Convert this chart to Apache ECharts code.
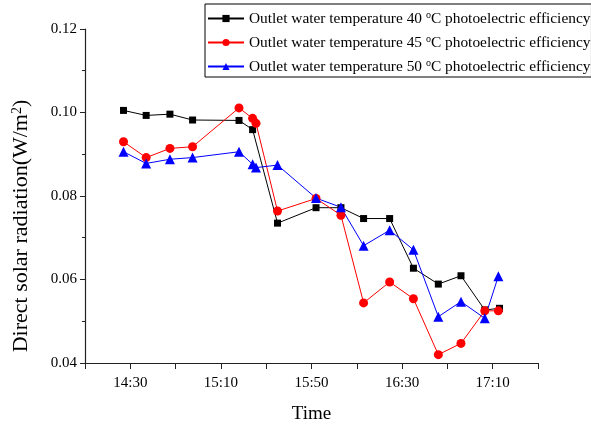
<!DOCTYPE html>
<html>
<head>
<meta charset="utf-8">
<script src="https://cdn.jsdelivr.net/npm/echarts@6/dist/echarts.min.js"></script>
<style>
    html, body { margin: 0; padding: 0; background: #fff; }
    #chart { width: 591px; height: 429px; }
</style>
</head>
<body>
<div id="chart"></div>
<script>
    // 时间：距 14:10 的分钟数
    var times40 = [17, 27, 37.5, 47.5, 68, 74, 85, 102, 113, 123, 134.5, 145, 156, 166, 176.5, 183];
    var eff40 = [0.1005, 0.0993, 0.0996, 0.0982, 0.0981, 0.0959, 0.0735, 0.0772, 0.0772, 0.0746, 0.0746, 0.0627, 0.0589, 0.0609, 0.0527, 0.0531];

    var times45 = [17, 27, 37.5, 47.5, 68, 74, 75.5, 85, 102, 113, 123, 134.5, 145, 156, 166, 176.5, 182.5];
    var eff45 = [0.0930, 0.0892, 0.0914, 0.0918, 0.1011, 0.0986, 0.0974, 0.0764, 0.0794, 0.0754, 0.0544, 0.0594, 0.0554, 0.0420, 0.0447, 0.0525, 0.0525];

    var times50 = [17, 27, 37.5, 47.5, 68, 74, 75.5, 85, 102, 113, 123, 134.5, 145, 156, 166, 176.5, 182.5];
    var eff50 = [0.0906, 0.0878, 0.0888, 0.0892, 0.0906, 0.0876, 0.0868, 0.0874, 0.0795, 0.0773, 0.0681, 0.0718, 0.0671, 0.0511, 0.0547, 0.0507, 0.0608];

    var seriesNames = [
        "Outlet water temperature 40 °C photoelectric efficiency",
        "Outlet water temperature 45 °C photoelectric efficiency",
        "Outlet water temperature 50 °C photoelectric efficiency"
    ];
    var startClock = 14 * 60 + 10; // 14:10

    var font = "Liberation Serif";

    function pair(xs, ys) {
        var out = [];
        for (var i = 0; i < xs.length; i++) out.push([xs[i], ys[i]]);
        return out;
    }

    function clockLabel(v) {
        if ((v - 20) % 40 !== 0) return "";
        var t = startClock + v;
        var h = Math.floor(t / 60), m = t % 60;
        return h + ":" + (m < 10 ? "0" + m : m);
    }

    function lineSeries(name, data, color, symbol, size) {
        return {
            name: name,
            type: "line",
            data: data,
            symbol: symbol,
            symbolSize: size,
            lineStyle: { color: color, width: 1 },
            itemStyle: { color: color },
            z: 3
        };
    }

    var myChart = echarts.init(document.getElementById("chart"), null, { renderer: "canvas" });

    var option = {
        backgroundColor: "#fff",
        animation: false,
        grid: { left: 85, right: 53, top: 29, bottom: 62 },
        legend: {
            orient: "vertical",
            left: 205,
            top: 4,
            padding: [6, 1, 2, 2],
            itemGap: 7,
            itemWidth: 36,
            itemHeight: 9,
            borderColor: "#000",
            borderWidth: 1,
            borderRadius: 0,
            textStyle: {
                fontFamily: font,
                fontSize: 15.4,
                color: "#000",
                lineHeight: 17,
                rich: {
                    sup: { fontFamily: font, fontSize: 10, verticalAlign: "top", lineHeight: 8 }
                }
            },
            formatter: function (name) {
                return name.replace(" °C", " {sup|o}C");
            },
            data: seriesNames
        },
        xAxis: {
            type: "value",
            min: 0,
            max: 200,
            interval: 20,
            name: "Time",
            nameLocation: "middle",
            nameGap: 42,
            nameTextStyle: { fontFamily: font, fontSize: 19, color: "#000" },
            axisLine: { lineStyle: { color: "#222", width: 1.2 } },
            axisTick: { length: 6, lineStyle: { color: "#222" } },
            axisLabel: { fontFamily: font, fontSize: 15, color: "#000", margin: 13, formatter: clockLabel },
            splitLine: { show: false }
        },
        yAxis: {
            type: "value",
            min: 0.04,
            max: 0.12,
            interval: 0.02,
            name: "Direct solar radiation(W/m{sup|2})",
            nameLocation: "middle",
            nameGap: 53,
            nameTextStyle: {
                fontFamily: font, fontSize: 22, color: "#000",
                padding: [0, 60, 0, 0],
                rich: { sup: { fontFamily: font, fontSize: 14, verticalAlign: "top", lineHeight: 12 } }
            },
            axisLine: { show: true, lineStyle: { color: "#222", width: 1.2 } },
            axisTick: { length: 5, lineStyle: { color: "#222" } },
            minorTick: { show: true, splitNumber: 2, length: 3, lineStyle: { color: "#222" } },
            axisLabel: {
                fontFamily: font, fontSize: 15, color: "#000", margin: 8,
                formatter: function (v) { return v.toFixed(2); }
            },
            splitLine: { show: false }
        },
        series: [
            lineSeries(seriesNames[0], pair(times40, eff40), "#000000", "rect", 7),
            lineSeries(seriesNames[1], pair(times45, eff45), "#ff0000", "circle", 9),
            lineSeries(seriesNames[2], pair(times50, eff50), "#0000ff", "triangle", 10)
        ]
    };

    myChart.setOption(option);
</script>
</body>
</html>
